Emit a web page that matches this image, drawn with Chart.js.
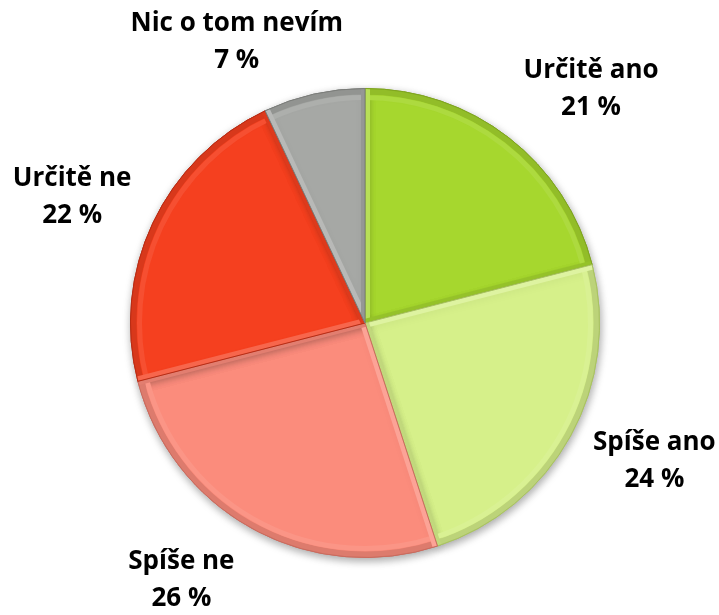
<!DOCTYPE html>
<html>
<head>
<meta charset="utf-8">
<script src="https://cdn.jsdelivr.net/npm/chart.js@4/dist/chart.umd.min.js"></script>
<style>
html,body{margin:0;padding:0;background:#fff;}
#wrap{width:719px;height:615px;position:relative;}
</style>
</head>
<body>
<div id="wrap"><canvas id="c" width="719" height="615"></canvas></div>
<script>
const categories = ["Určitě ano", "Spíše ano", "Spíše ne", "Určitě ne", "Nic o tom nevím"];
const values = [21, 24, 26, 22, 7];
const valueLabels = ["21 %", "24 %", "26 %", "22 %", "7 %"];
const sliceColors = ["#a6d72e", "#d6f08a", "#fb8c7c", "#f5401f", "#a6a8a5"];
const edgeColors = ["#7fa51f", "#a9c262", "#c96b5e", "#b92c14", "#7b7d7a"];
// label anchor offsets relative to pie centre, in units of the pie radius
const labelOffsets = [[0.964,-0.996],[1.234,0.591],[-0.783,1.098],[-1.249,-0.536],[-0.547,-1.200]];

function shade(hex, f){
  const n=parseInt(hex.slice(1),16);
  let r=(n>>16)&255,g=(n>>8)&255,b=n&255;
  const t=f<0?0:255, p=Math.abs(f);
  r=Math.round((t-r)*p+r);g=Math.round((t-g)*p+g);b=Math.round((t-b)*p+b);
  return `rgb(${r},${g},${b})`;
}

const labelPlugin = {
  id:'outerLabels',
  afterDatasetsDraw(chart){
    const ctx=chart.ctx;
    const meta=chart.getDatasetMeta(0);
    ctx.save();
    ctx.font='bold 26px "Open Sans", Lato, sans-serif';
    ctx.fillStyle='#000';
    ctx.textAlign='center';
    ctx.textBaseline='middle';
    meta.data.forEach((arc,i)=>{
      const r=arc.outerRadius;
      const x=arc.x+labelOffsets[i][0]*r;
      const y=arc.y+labelOffsets[i][1]*r;
      ctx.fillText(categories[i], x, y-18.5);
      ctx.fillText(valueLabels[i], x, y+18.5);
    });
    ctx.restore();
  }
};

const shadowPlugin = {
  id:'pieShadow',
  beforeDatasetsDraw(chart){
    const ctx=chart.ctx;
    ctx.save();
    ctx.shadowColor='rgba(0,0,0,0.35)';
    ctx.shadowBlur=8;
    ctx.shadowOffsetX=1;
    ctx.shadowOffsetY=3;
  },
  afterDatasetsDraw(chart){
    chart.ctx.restore();
  }
};

const bevelPlugin = {
  id:'bevel',
  afterDatasetsDraw(chart){
    const ctx=chart.ctx;
    const meta=chart.getDatasetMeta(0);
    meta.data.forEach((arc,i)=>{
      const {x,y,startAngle,endAngle,outerRadius}=arc;
      ctx.save();
      ctx.shadowColor='transparent';
      ctx.beginPath();
      ctx.moveTo(x,y);
      ctx.arc(x,y,outerRadius,startAngle,endAngle);
      ctx.closePath();
      ctx.clip();
      ctx.beginPath();
      ctx.arc(x,y,outerRadius-3,startAngle,endAngle);
      ctx.lineWidth=6;
      ctx.strokeStyle=shade(sliceColors[i],-0.12);
      ctx.stroke();
      ctx.beginPath();
      ctx.arc(x,y,outerRadius-9,startAngle,endAngle);
      ctx.lineWidth=5;
      ctx.strokeStyle=shade(sliceColors[i],0.08);
      ctx.stroke();
      ctx.beginPath();
      ctx.moveTo(x,y);
      ctx.lineTo(x+Math.cos(startAngle)*outerRadius,y+Math.sin(startAngle)*outerRadius);
      ctx.lineWidth=10;
      ctx.strokeStyle=shade(sliceColors[i],0.2);
      ctx.stroke();
      ctx.beginPath();
      ctx.moveTo(x,y);
      ctx.lineTo(x+Math.cos(endAngle)*outerRadius,y+Math.sin(endAngle)*outerRadius);
      ctx.lineWidth=8;
      ctx.strokeStyle=shade(sliceColors[i],-0.1);
      ctx.stroke();
      ctx.restore();
      ctx.save();
      ctx.shadowColor='transparent';
      ctx.beginPath();
      ctx.moveTo(x,y);
      ctx.arc(x,y,outerRadius,startAngle,endAngle);
      ctx.closePath();
      ctx.lineWidth=1;
      ctx.strokeStyle=edgeColors[i];
      ctx.stroke();
      ctx.restore();
    });
  }
};

new Chart(document.getElementById('c'),{
  type:'pie',
  data:{
    labels:categories,
    datasets:[{
      data:values,
      backgroundColor:sliceColors,
      borderColor:edgeColors,
      borderWidth:1
    }]
  },
  options:{
    responsive:false,
    animation:false,
    layout:{padding:{top:88,bottom:57,left:130,right:119}},
    plugins:{legend:{display:false},tooltip:{enabled:false}}
  },
  plugins:[shadowPlugin,bevelPlugin,labelPlugin]
});
</script>
</body>
</html>
